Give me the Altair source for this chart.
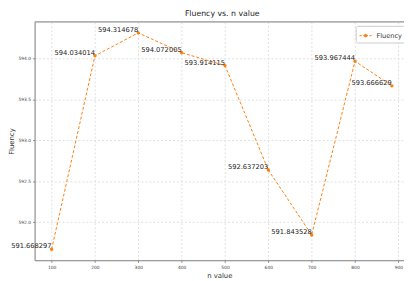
import altair as alt
import pandas as pd

n_values = [100, 200, 300, 400, 500, 600, 700, 800, 885]
fluency = [591.668297, 594.034014, 594.314678, 594.072005, 593.914115,
           592.637203, 591.843528, 593.967444, 593.666629]
labels = ["591.668297", "594.034014", "594.314678", "594.072005", "593.914115",
          "592.637203", "591.843528", "593.967444", "593.666629"]
x_ticks = [100, 200, 300, 400, 500, 600, 700, 800, 900]
y_ticks = [592.0, 592.5, 593.0, 593.5, 594.0]
series = "Fluency"

df = pd.DataFrame({"n": n_values, "f": fluency, "label": labels, "series": series})

ORANGE = "#ff7f0e"
FONT = "DejaVu Sans"
W, H = 375, 242

xs = alt.Scale(domain=[60.75, 913], nice=False, zero=False)
ys = alt.Scale(domain=[591.534, 594.449], nice=False, zero=False)

x_enc = alt.X("n:Q", scale=xs, title="n value",
              axis=alt.Axis(values=x_ticks, format="d", grid=True, gridDash=[2, 2],
                            gridColor="#e0e0e0", domainColor="#888888", tickColor="#888888",
                            tickSize=2, labelFontSize=4.5, labelColor="#444444",
                            labelFont=FONT, labelPadding=2, titleFont=FONT,
                            titleFontSize=7, titleFontWeight="normal", titleColor="#333333",
                            titlePadding=3))
y_enc = alt.Y("f:Q", scale=ys, title="Fluency",
              axis=alt.Axis(values=y_ticks, format=".1f", grid=True, gridDash=[2, 2],
                            gridColor="#e0e0e0", domainColor="#888888", tickColor="#888888",
                            tickSize=2, labelFontSize=4.5, labelColor="#444444",
                            labelFont=FONT, labelPadding=2, titleFont=FONT,
                            titleFontSize=7, titleFontWeight="normal", titleColor="#333333",
                            titlePadding=4))

legend_symbol = ("M-1,0H-0.65M-0.4,0H-0.1M0.1,0H0.4M0.65,0H1"
                 "M0.22,0A0.22,0.22 0 1,1 -0.22,0A0.22,0.22 0 1,1 0.22,0Z")

color = alt.Color("series:N", scale=alt.Scale(domain=[series], range=[ORANGE]), title=None,
                  legend=alt.Legend(orient="none", legendX=326, legendY=4,
                                    symbolType=legend_symbol, symbolSize=150,
                                    symbolStrokeWidth=1, symbolFillColor=ORANGE,
                                    labelFont=FONT, labelFontSize=6.7, labelColor="#333333",
                                    strokeColor="#cccccc", fillColor="white",
                                    padding=3, cornerRadius=2, labelOffset=4))

base = alt.Chart(df)

line = base.mark_line(strokeDash=[3, 2], strokeWidth=1).encode(x=x_enc, y=y_enc, color=color)
pts = base.mark_point(filled=True, size=12, opacity=1).encode(x="n:Q", y="f:Q", color=color)
txt = base.mark_text(align="right", baseline="bottom", font=FONT, fontSize=6.8,
                     color="#222222").encode(x="n:Q", y="f:Q", text="label:N")
top = alt.Chart(pd.DataFrame({"a": [0]})).mark_rule(color="#888888", strokeWidth=1).encode(
    x=alt.value(0), x2=alt.value(W), y=alt.value(0))

chart = alt.layer(line, pts, txt, top).properties(
    width=W, height=H,
    title=alt.TitleParams("Fluency vs. n value", font=FONT, fontSize=7.9,
                          fontWeight="normal", color="#222222", offset=4, dx=3),
    autosize=alt.AutoSizeParams(type="none"),
    padding={"left": 27, "top": 12, "right": 0, "bottom": 18},
).configure_view(stroke=None).configure(background="white")

chart.save("out.html", embed_options={"renderer": "svg", "actions": False})
